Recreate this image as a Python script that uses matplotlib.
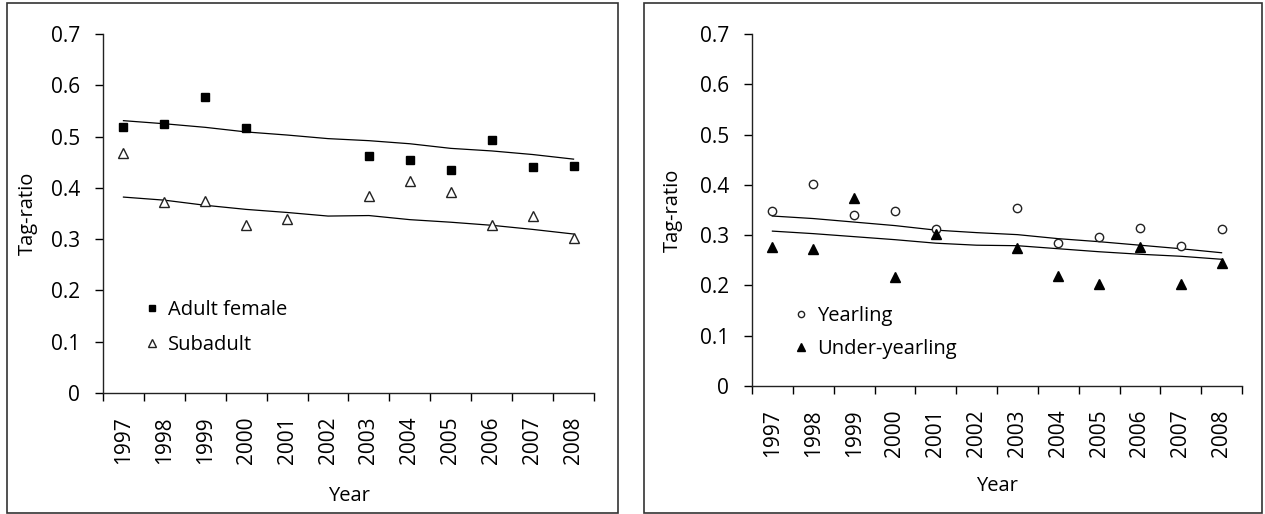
import numpy as np
import matplotlib
matplotlib.use("Agg")
import matplotlib.pyplot as plt
from matplotlib.patches import Rectangle

plt.rcParams['font.family'] = ['Open Sans', 'DejaVu Sans']

years = ['1997', '1998', '1999', '2000', '2001', '2002', '2003',
         '2004', '2005', '2006', '2007', '2008']

# panel a: adult female / subadult (no data for 2002)
adult_female = [0.518, 0.525, 0.578, 0.517, np.nan, np.nan, 0.463,
                0.455, 0.435, 0.493, 0.440, 0.443]
subadult = [0.467, 0.373, 0.375, 0.327, 0.340, np.nan, 0.384,
            0.414, 0.391, 0.328, 0.346, 0.302]
adult_fit = [0.531, 0.525, 0.518, 0.509, 0.503, 0.496, 0.492,
             0.486, 0.477, 0.472, 0.465, 0.456]
subadult_fit = [0.382, 0.376, 0.366, 0.358, 0.352, 0.345, 0.346,
                0.338, 0.333, 0.327, 0.319, 0.310]

# panel b: yearling / under-yearling
yearling = [0.348, 0.401, 0.340, 0.348, 0.312, np.nan, 0.354,
            0.285, 0.296, 0.315, 0.279, 0.313]
under_yearling = [0.276, 0.272, 0.373, 0.217, 0.303, np.nan, 0.274,
                  0.218, 0.202, 0.277, 0.202, 0.245]
yearling_fit = [0.338, 0.333, 0.326, 0.319, 0.310, 0.305, 0.301,
                0.293, 0.287, 0.280, 0.273, 0.265]
under_fit = [0.308, 0.303, 0.297, 0.291, 0.284, 0.280, 0.279,
             0.273, 0.267, 0.262, 0.258, 0.252]

W, H = 1265, 514
fig = plt.figure(figsize=(W / 100, H / 100), dpi=100)

# panel frames
fig.patches.append(Rectangle((7 / W, 1 / H), (618 - 7) / W, (511 - 1) / H,
                             transform=fig.transFigure, fill=False,
                             edgecolor='#333333', lw=1.2))
fig.patches.append(Rectangle((644 / W, 1 / H), (1262 - 644) / W, (511 - 1) / H,
                             transform=fig.transFigure, fill=False,
                             edgecolor='#333333', lw=1.2))


def setup(ax, ylab_x, xlab_y):
    x = np.arange(len(years))
    ax.set_xlim(-0.5, len(years) - 0.5)
    ax.set_ylim(0, 0.7)
    for s in ['top', 'right']:
        ax.spines[s].set_visible(False)
    for s in ['left', 'bottom']:
        ax.spines[s].set_linewidth(1.0)
        ax.spines[s].set_color('#222222')
    ax.set_xticks(np.arange(len(years) + 1) - 0.5)
    ax.set_xticklabels([])
    ax.set_xticks(x, minor=True)
    ax.set_xticklabels(years, minor=True, rotation=90, fontsize=15)
    ax.tick_params(axis='x', which='major', direction='out', length=5.5, width=1)
    ax.tick_params(axis='x', which='minor', length=0, pad=17)
    ax.set_yticks(np.arange(0, 0.71, 0.1))
    ax.set_yticklabels(['0', '0.1', '0.2', '0.3', '0.4', '0.5', '0.6', '0.7'],
                       fontsize=15)
    ax.tick_params(axis='y', direction='out', length=5.5, width=1, pad=11)
    ax.set_xlabel('Year', fontsize=14.5)
    ax.set_ylabel('Tag-ratio', fontsize=14.5)
    ax.yaxis.set_label_coords(ylab_x, 0.5)
    ax.xaxis.set_label_coords(0.5, xlab_y)
    return x


ax1 = fig.add_axes([103 / W, 1 - 393 / H, (594 - 103) / W, (393 - 34) / H])
x = setup(ax1, -0.133, -0.26)
ax1.plot(x, adult_fit, color='black', lw=0.9)
ax1.plot(x, subadult_fit, color='black', lw=0.9)
ax1.plot(x, adult_female, 's', color='black', ms=6, ls='none', label='Adult female')
ax1.plot(x, subadult, '^', mfc='white', mec='#222222', mew=1, ms=7.5, ls='none',
         label='Subadult')
ax1.legend(loc='upper left', bbox_to_anchor=(0.05, 0.31), frameon=False,
           fontsize=14.5, handlelength=0.6, handletextpad=0.5, labelspacing=0.75,
           markerscale=0.75)

ax2 = fig.add_axes([752 / W, 1 - 386 / H, (1242 - 752) / W, (386 - 34) / H])
x = setup(ax2, -0.141, -0.255)
ax2.plot(x, yearling_fit, color='black', lw=0.9)
ax2.plot(x, under_fit, color='black', lw=0.9)
ax2.plot(x, yearling, 'o', mfc='white', mec='#222222', mew=1, ms=6, ls='none',
         label='Yearling')
ax2.plot(x, under_yearling, '^', color='black', ms=7.5, ls='none',
         label='Under-yearling')
ax2.legend(loc='upper left', bbox_to_anchor=(0.05, 0.28), frameon=False,
           fontsize=14.5, handlelength=0.6, handletextpad=0.5, labelspacing=0.65,
           markerscale=0.75)

fig.savefig('out.png', dpi=100)
